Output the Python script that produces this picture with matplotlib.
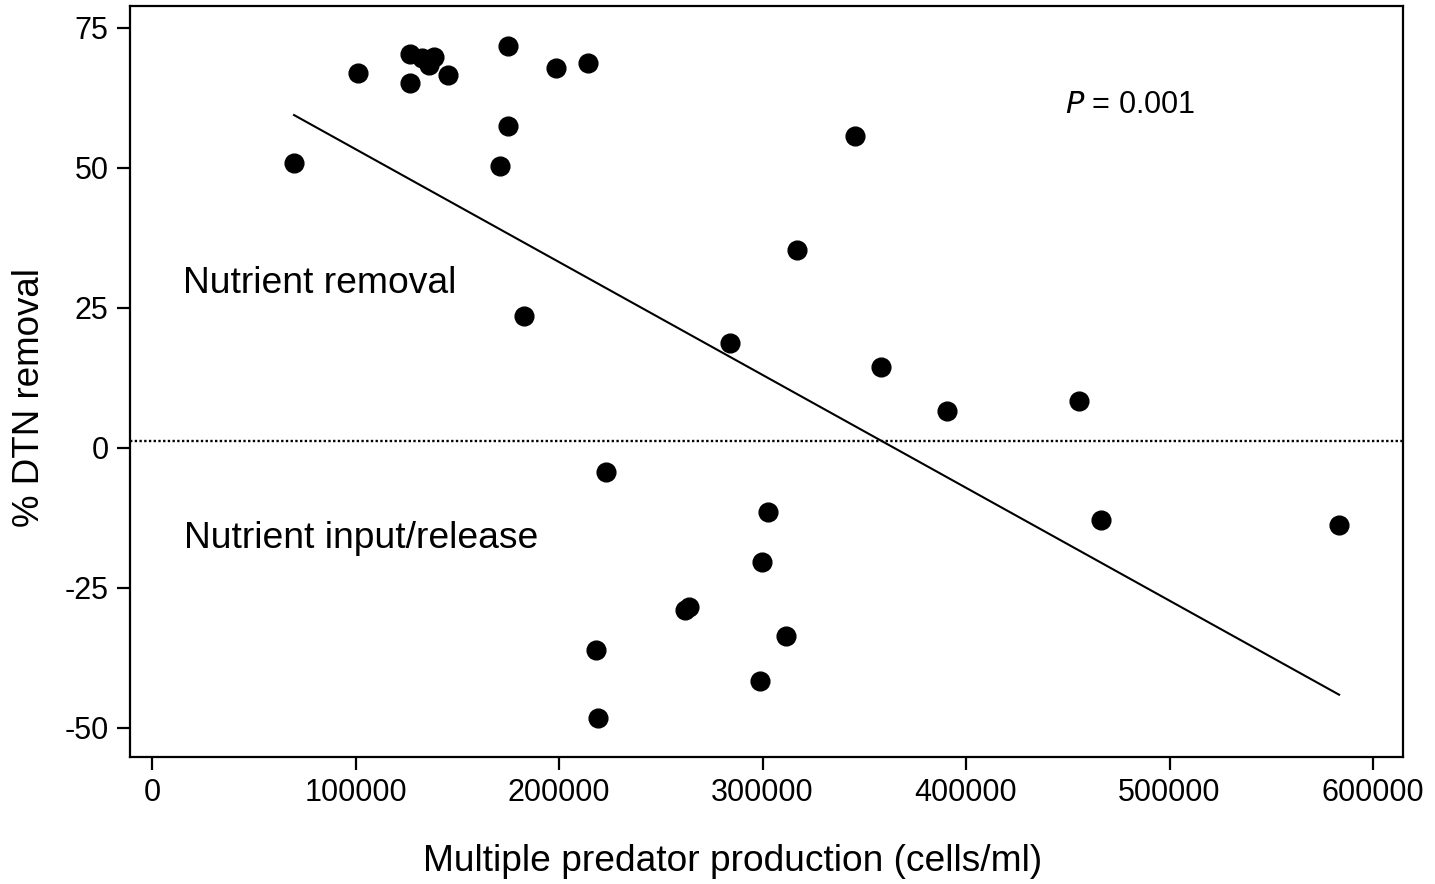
import numpy as np
import matplotlib
matplotlib.use("Agg")
import matplotlib.pyplot as plt

plt.rcParams['font.family'] = ['Liberation Sans', 'DejaVu Sans']

# Data
production = [69800, 101200, 126800, 132700, 136100, 138600, 145500, 126800,
              175000, 198500, 214300, 175000, 171000, 182800, 284000, 317000,
              345500, 358200, 390700, 455500,
              223100, 302700, 299800, 262000, 264000, 311500, 218200, 298800,
              219200, 466300, 583300]
dtn_removal = [50.9, 67.0, 70.4, 69.6, 68.4, 69.8, 66.6, 65.2,
               71.8, 67.9, 68.8, 57.5, 50.4, 23.6, 18.7, 35.4,
               55.7, 14.5, 6.5, 8.4,
               -4.3, -11.4, -20.4, -28.9, -28.4, -33.6, -36.1, -41.6,
               -48.2, -12.9, -13.8]

x_ticks = [0, 100000, 200000, 300000, 400000, 500000, 600000]
y_ticks = [-50, -25, 0, 25, 50, 75]
zero_line_level = 1.3

x = np.array(production, dtype=float)
y = np.array(dtn_removal, dtype=float)
slope, intercept = np.polyfit(x, y, 1)
xfit = np.array([x.min(), x.max()])
yfit = slope * xfit + intercept

fig = plt.figure(figsize=(14.35, 8.84), dpi=100)
ax = fig.add_axes([0.0906, 0.1437, 0.9777 - 0.0906, 0.9932 - 0.1437])

ax.plot(x, y, 'o', color='black', markersize=13.5, zorder=3)
ax.plot(xfit, yfit, '-', color='black', lw=1.5, zorder=2)
ax.axhline(zero_line_level, color='black', lw=1.7, ls=(0, (1, 1)), zorder=1)

ax.set_xlim(-10800, 614700)
ax.set_ylim(-55.2, 78.9)
ax.set_xticks(x_ticks)
ax.set_xticklabels([str(v) for v in x_ticks])
ax.set_yticks(y_ticks)
ax.set_yticklabels([str(v) for v in y_ticks])

for s in ax.spines.values():
    s.set_linewidth(1.6)
ax.tick_params(axis='both', direction='out', length=9.5, width=1.6,
               labelsize=22, pad=6)

ax.set_xlabel('Multiple predator production (cells/ml)', fontsize=26.7, va='center')
ax.xaxis.set_label_coords(0.473, -0.1398)
ax.set_ylabel('% DTN removal', fontsize=26.5, va='center')
ax.yaxis.set_label_coords(-0.0786, 0.479)

ax.text(15200, 29.3, 'Nutrient removal', fontsize=26.8, va='center', ha='left')
ax.text(15600, -16.2, 'Nutrient input/release', fontsize=26.8, va='center', ha='left')
ax.text(448600, 61.3, r'$\it{P}$ = 0.001', fontsize=22, va='center', ha='left')

fig.savefig('out.png', dpi=100)
